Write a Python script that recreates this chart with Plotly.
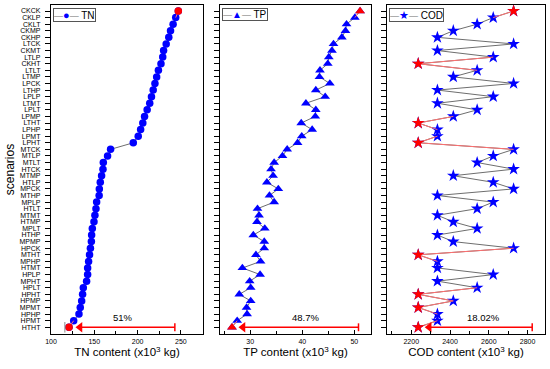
import plotly.graph_objects as go

# ---------------- data (top row first) ----------------
scenarios = ["CKCK", "CKLP", "CKLT", "CKMP", "CKHP", "LTCK", "CKMT", "LTLP", "CKHT", "LTLT",
             "LTMP", "LPCK", "LTHP", "LPLP", "LTMT", "LPLT", "LPMP", "LTHT", "LPHP", "LPMT",
             "LPHT", "MTCK", "MTLP", "MTLT", "HTCK", "MTMP", "HTLP", "MPCK", "MTHP", "MPLP",
             "HTLT", "MTMT", "HTMP", "MPLT", "HTHP", "MPMP", "HPCK", "MTHT", "MPHP", "HTMT",
             "HPLP", "MPHT", "HPLT", "HPHT", "HPMP", "MPMT", "HPHP", "HPMT", "HTHT"]

tn = [247, 244, 241, 238, 236, 233, 230, 229, 227, 224,
      222, 220, 218, 216, 214, 211, 208, 206, 203.5, 200.7,
      195, 168.8, 165.3, 160.4, 160, 158.4, 156.9, 155.8, 155.6, 152.7,
      151.9, 150.7, 149.6, 147.7, 146.9, 146.6, 145.5, 144.5, 143.4, 142.3,
      142.3, 141.1, 137.3, 136.5, 135.4, 133.8, 132.3, 126.2, 120.8]

tp = [51.1, 50.1, 48.5, 48.3, 47.6, 46.0, 45.7, 45.1, 44.9, 43.4,
      43.3, 45.3, 42.6, 44.4, 40.7, 42.6, 42.5, 39.8, 41.9, 39.9,
      39.1, 37.1, 36.2, 34.6, 34.0, 34.4, 33.2, 35.4, 33.7, 34.6,
      31.4, 31.7, 31.3, 32.8, 30.6, 32.7, 32.7, 31.1, 32.0, 28.5,
      31.9, 29.9, 30.1, 27.9, 30.1, 29.3, 29.4, 27.5, 26.5]

cod = [2728, 2623, 2540, 2417, 2335, 2728, 2335, 2623, 2236, 2540,
       2417, 2728, 2335, 2623, 2335, 2540, 2417, 2236, 2335, 2335,
       2236, 2728, 2623, 2540, 2728, 2417, 2623, 2728, 2335, 2623,
       2540, 2335, 2417, 2540, 2335, 2417, 2728, 2236, 2335, 2335,
       2623, 2335, 2540, 2236, 2417, 2236, 2335, 2335, 2236]

series_names = ["TN", "TP", "COD"]
series_values = [tn, tp, cod]
reduction_labels = ["51%", "48.7%", "18.02%"]
arrow_end = [243, 50.8, 2824]          # right end (cap) of the reduction arrow
x_ranges = [[100, 275.5], [24.2, 53.2], [2075, 2890]]
x_dtick = [50, 10, 200]
x_titles = ["TN content (x10<sup>3</sup> kg)", "TP content (x10<sup>3</sup> kg)",
            "COD content (x10<sup>3</sup> kg)"]
symbols = ["circle", "triangle-up", "star"]
legend_glyphs = ["\u25CF", "\u25B2", "\u2605"]
marker_sizes = [7.5, 8.5, 9.5]

# ---------------- layout constants ----------------
W, H = 550, 369
ML, MR, MT, MB = 51, 5, 5, 35
PW = W - ML - MR
panel_px = [[51, 203], [220, 371], [387, 545]]
domains = [[(a - ML) / PW, (b - ML) / PW] for a, b in panel_px]
FONT = "Liberation Sans, Arial, sans-serif"
BLUE, RED = "#0000FF", "#FF0000"
GRAY_LINE, RED_LINE = "#6e6e6e", "#ff7070"

n = len(scenarios)
ypos = [n - 1 - i for i in range(n)]   # top row -> highest value

fig = go.Figure()

for k, (name, vals) in enumerate(zip(series_names, series_values)):
    xa = "x" if k == 0 else f"x{k+1}"
    ya = "y" if k == 0 else f"y{k+1}"
    vmin = min(vals)
    hi = [i for i, v in enumerate(vals) if i == 0 or v == vmin]
    ppu = (panel_px[k][1] - panel_px[k][0]) / (x_ranges[k][1] - x_ranges[k][0])

    # main trace (gray line + blue markers)
    fig.add_trace(go.Scatter(
        x=vals, y=ypos, mode="lines+markers", name=name, showlegend=False,
        xaxis=xa, yaxis=ya,
        line=dict(color=GRAY_LINE, width=1),
        marker=dict(symbol=symbols[k], size=marker_sizes[k], color=BLUE,
                    line=dict(width=0))))

    # red line segments touching highlighted points
    sx, sy = [], []
    for i in range(n - 1):
        if i in hi or (i + 1) in hi:
            sx += [vals[i], vals[i + 1], None]
            sy += [ypos[i], ypos[i + 1], None]
    fig.add_trace(go.Scatter(x=sx, y=sy, mode="lines", xaxis=xa, yaxis=ya,
                             line=dict(color=RED_LINE, width=1), showlegend=False,
                             hoverinfo="skip"))
    # red markers
    fig.add_trace(go.Scatter(
        x=[vals[i] for i in hi], y=[ypos[i] for i in hi], mode="markers",
        xaxis=xa, yaxis=ya, showlegend=False,
        marker=dict(symbol=symbols[k], size=marker_sizes[k], color=RED, line=dict(width=0))))

    # reduction arrow: head (triangle) + shaft + end cap
    row = ypos[n - 1]
    tip = vals[n - 1] + 7 / ppu
    head_c = tip + 4 / ppu
    fig.add_shape(type="line", xref=xa, yref=ya, x0=head_c, x1=arrow_end[k],
                  y0=row, y1=row, line=dict(color=RED, width=1.5))
    fig.add_shape(type="line", xref=xa, yref=ya, x0=arrow_end[k], x1=arrow_end[k],
                  y0=row - 0.6, y1=row + 0.6, line=dict(color=RED, width=1.5))
    fig.add_trace(go.Scatter(x=[head_c], y=[row], mode="markers", xaxis=xa, yaxis=ya,
                             showlegend=False, hoverinfo="skip",
                             marker=dict(symbol="triangle-left", size=9, color=RED,
                                         line=dict(width=0))))
    mid = (vals[n - 1] + arrow_end[k]) / 2
    fig.add_annotation(x=mid, y=row, xref=xa, yref=ya, text=reduction_labels[k],
                       showarrow=False, yshift=10, xshift=[1, 10, 8][k],
                       font=dict(size=9.5, color="black", family=FONT))

    # legend box (drawn as a bordered annotation)
    gsz = [11, 10, 11][k]
    legend_text = (f'<span style="color:{GRAY_LINE};font-size:9px">\u2014</span>'
                   f'<span style="color:{BLUE};font-size:{gsz}px">{legend_glyphs[k]}</span>'
                   f'<span style="color:{GRAY_LINE};font-size:9px">\u2014</span> {name}')
    fig.add_annotation(x=0.012, y=0.99, xref=f"{xa} domain", yref=f"{ya} domain",
                       xanchor="left", yanchor="top", showarrow=False, text=legend_text,
                       font=dict(size=10, family=FONT, color="black"),
                       bgcolor="white", bordercolor="#555555", borderwidth=1, borderpad=0)

    # axes
    axis_common = dict(showline=True, linecolor="black", linewidth=1.3, mirror=True,
                       tickcolor="black", tickwidth=1.3, showgrid=False,
                       zeroline=False, automargin=False)
    fig.layout[("xaxis" if k == 0 else f"xaxis{k+1}")] = dict(
        domain=domains[k], range=x_ranges[k], anchor=ya, dtick=x_dtick[k],
        ticks="inside", ticklen=4,
        tickfont=dict(size=7, family=FONT, color="black"),
        title=dict(text=x_titles[k], font=dict(size=11.5, family=FONT, color="black"),
                   standoff=2),
        minor=dict(dtick=x_dtick[k] / 2, ticks="inside", ticklen=2.5, tickcolor="black",
                   tickwidth=1),
        **axis_common)
    yax = dict(domain=[0, 1], range=[-1.02, n - 1 + 0.91], anchor=xa,
               tickmode="array", tickvals=ypos, showticklabels=(k == 0),
               ticks="outside", ticklen=5, **axis_common)
    if k == 0:
        yax.update(ticktext=scenarios, ticklabelstandoff=3,
                   tickfont=dict(size=7, family=FONT, color="black"),
                   title=dict(text="scenarios",
                              font=dict(size=12, family=FONT, color="black"), standoff=2))
    fig.layout[("yaxis" if k == 0 else f"yaxis{k+1}")] = yax

# small gray reference tick in the TN panel
tn_ref_tick = 116
fig.add_shape(type="line", xref="x", yref="y", x0=tn_ref_tick, x1=tn_ref_tick,
              y0=-0.8, y1=0.8, line=dict(color="#888888", width=1))

fig.update_layout(width=W, height=H, margin=dict(l=ML, r=MR, t=MT, b=MB),
                  plot_bgcolor="white", paper_bgcolor="white", showlegend=False,
                  font=dict(family=FONT, color="black"))

fig.write_html("out.html", config={"displayModeBar": False},
               post_script="document.body.style.margin='0';"
                           "document.body.style.overflow='hidden';")
